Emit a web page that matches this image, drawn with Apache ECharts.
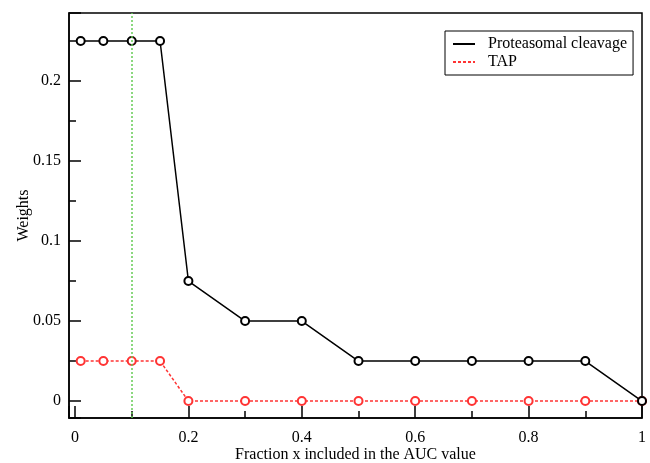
<!DOCTYPE html>
<html>
<head>
<meta charset="utf-8">
<script src="https://cdn.jsdelivr.net/npm/echarts@6/dist/echarts.min.js"></script>
<style>
  html, body { margin: 0; padding: 0; background: #fff; }
  #chart { width: 650px; height: 463px; }
</style>
</head>
<body>
<div id="chart"></div>
<script>
// fraction of the AUC included
const fractions = [0.01, 0.05, 0.1, 0.15, 0.2, 0.3, 0.4, 0.5, 0.6, 0.7, 0.8, 0.9, 1.0]
const cleavageWeights = [0.225, 0.225, 0.225, 0.225, 0.075, 0.05, 0.05, 0.025, 0.025, 0.025, 0.025, 0.025, 0]
const tapWeights = [0.025, 0.025, 0.025, 0.025, 0, 0, 0, 0, 0, 0, 0, 0, 0]
const cutoff = 0.1
const xTicks = [0, 0.2, 0.4, 0.6, 0.8, 1]
const yTicks = [0, 0.05, 0.1, 0.15, 0.2]

const font = 'Liberation Serif'
const pairs = (ys) => fractions.map((x, i) => [x, ys[i]])
const onTick = (list) => (v) => {
  const hit = list.find(t => Math.abs(t - v) < 1e-6)
  return hit === undefined ? '' : String(hit)
}

const chart = echarts.init(document.getElementById('chart'))
chart.setOption({
  animation: false,
  textStyle: { fontFamily: font },
  grid: {
    left: 69, right: 8, top: 13, bottom: 45,
    outerBoundsMode: 'none',
    containLabel: false,
    show: true, borderColor: '#000', borderWidth: 1.5
  },
  legend: {
    orient: 'vertical',
    left: 445, top: 31,
    padding: [5, 6, 5, 7],
    itemGap: 2,
    itemWidth: 22, itemHeight: 12,
    borderColor: '#000', borderWidth: 1,
    backgroundColor: '#fff',
    itemStyle: { opacity: 0 },
    textStyle: { fontFamily: font, fontSize: 16, color: '#000', padding: [0, 0, 0, 8] },
    data: ['Proteasomal cleavage', 'TAP']
  },
  xAxis: {
    type: 'value',
    min: -0.0106, max: 1,
    splitNumber: 5,
    name: 'Fraction x included in the AUC value',
    nameLocation: 'middle', nameGap: 29,
    nameMoveOverlap: false,
    nameTextStyle: { fontFamily: font, fontSize: 16, color: '#000' },
    axisLine: { onZero: false, lineStyle: { color: '#000', width: 1.5 } },
    axisTick: { inside: true, length: 12, lineStyle: { color: '#000', width: 1.5 } },
    minorTick: { show: true, splitNumber: 2, length: 7, lineStyle: { color: '#000', width: 1.5 } },
    axisLabel: { margin: 12, fontFamily: font, fontSize: 16, color: '#000', formatter: onTick(xTicks) },
    splitLine: { show: false }
  },
  yAxis: {
    type: 'value',
    min: -0.0106, max: 0.2425,
    splitNumber: 5,
    name: 'Weights',
    nameLocation: 'middle', nameGap: 37, nameRotate: 90,
    nameMoveOverlap: false,
    nameTextStyle: { fontFamily: font, fontSize: 16, color: '#000' },
    axisLine: { onZero: false, lineStyle: { color: '#000', width: 1.5 } },
    axisTick: { inside: true, length: 12, lineStyle: { color: '#000', width: 1.5 } },
    minorTick: { show: true, splitNumber: 2, length: 7, lineStyle: { color: '#000', width: 1.5 } },
    axisLabel: { margin: 8, fontFamily: font, fontSize: 16, color: '#000', formatter: onTick(yTicks) },
    splitLine: { show: false }
  },
  series: [
    {
      name: 'Proteasomal cleavage',
      type: 'line',
      data: pairs(cleavageWeights),
      symbol: 'emptyCircle', symbolSize: 8,
      lineStyle: { color: '#000', width: 1.5 },
      itemStyle: { color: '#000', borderWidth: 1.5 },
      markLine: {
        silent: true,
        symbol: 'none',
        label: { show: false },
        lineStyle: { color: '#66cc55', type: [2, 2], width: 1.5 },
        data: [{ xAxis: cutoff }]
      },
      z: 3
    },
    {
      name: 'TAP',
      type: 'line',
      data: pairs(tapWeights),
      symbol: 'emptyCircle', symbolSize: 8,
      lineStyle: { color: '#ff3333', width: 1.5, type: [3, 2] },
      itemStyle: { color: '#ff3333', borderWidth: 1.5 },
      z: 2
    }
  ]
})
</script>
</body>
</html>
